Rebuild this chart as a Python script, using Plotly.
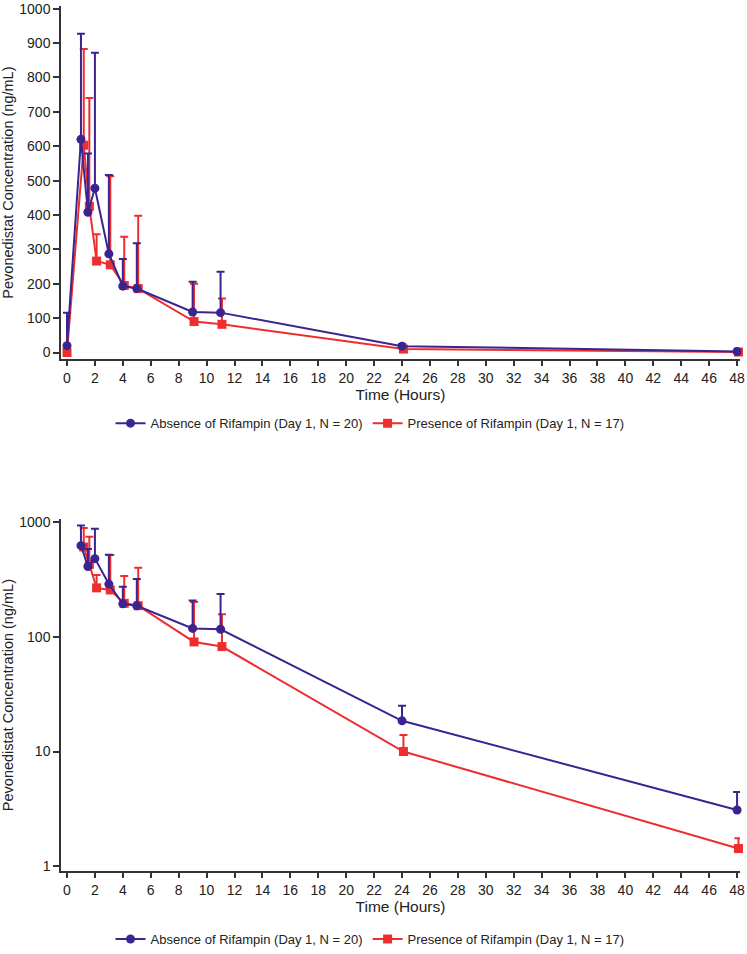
import plotly.graph_objects as go

# ---- Data ----
time_abs = [0, 1, 1.5, 2, 3, 4, 5, 9, 11, 24, 48]
mean_abs = [20, 620, 408, 478, 287, 193, 186, 118, 116, 18.5, 3.1]
upper_abs = [116, 927, 579, 872, 516, 272, 318, 206, 235, 25, 4.45]

time_pre = [0, 1.2, 1.6, 2.12, 3.1, 4.1, 5.1, 9.1, 11.1, 24.1, 48.1]
mean_pre = [0, 603, 425, 266, 255, 195, 186, 90, 82, 10, 1.43]
upper_pre = [0, 883, 740, 344, 513, 337, 398, 200, 157, 13.9, 1.76]

name_abs = "Absence of Rifampin (Day 1, N = 20)"
name_pre = "Presence of Rifampin (Day 1, N = 17)"
x_title = "Time (Hours)"
y_title = "Pevonedistat Concentration (ng/mL)"

BLUE = "#3B2390"
RED = "#EE2E2E"
AXC = "#333333"
FONT = "Arial, Liberation Sans, sans-serif"

W, H = 747, 954
ML, MR = 61, 7


def trace(x, m, u, color, symbol, name, xa, ya, legend, rank):
    return go.Scatter(
        x=x, y=m, mode="lines+markers", name=name,
        line=dict(color=color, width=2),
        marker=dict(color=color, symbol=symbol, size=9),
        error_y=dict(type="data", symmetric=False,
                     array=[a - b for a, b in zip(u, m)],
                     arrayminus=[0] * len(m),
                     color=color, thickness=2, width=4),
        xaxis=xa, yaxis=ya, legend=legend, legendrank=rank, cliponaxis=False,
    )


fig = go.Figure()
# top (linear)
fig.add_trace(trace(time_pre, mean_pre, upper_pre, RED, "square", name_pre, "x", "y", "legend", 2))
fig.add_trace(trace(time_abs, mean_abs, upper_abs, BLUE, "circle", name_abs, "x", "y", "legend", 1))
# bottom (log) - time 0 omitted (zero not plottable on log scale)
fig.add_trace(trace(time_pre[1:], mean_pre[1:], upper_pre[1:], RED, "square", name_pre, "x2", "y2", "legend2", 2))
fig.add_trace(trace(time_abs[1:], mean_abs[1:], upper_abs[1:], BLUE, "circle", name_abs, "x2", "y2", "legend2", 1))


def py(p):
    return 1 - p / H


def px(p):
    return (p - ML) / (W - ML - MR)


TF = dict(size=14, color="#222222", family=FONT)
common_x = dict(
    range=[-0.43, 48.21], dtick=2, tick0=0, showline=True, linecolor=AXC, linewidth=1.5,
    ticks="outside", ticklen=5, tickwidth=1.5, tickcolor=AXC, showgrid=False, zeroline=False,
    tickfont=TF, automargin=False,
    title=dict(text=x_title, font=dict(size=15.5, color="#222222", family=FONT), standoff=2),
)
common_y = dict(
    showline=True, linecolor=AXC, linewidth=1.5, ticks="outside", ticklen=6, tickwidth=1.5,
    tickcolor=AXC, showgrid=False, zeroline=False, tickfont=TF, automargin=False,
    title=dict(text=y_title, font=dict(size=14.5, color="#222222", family=FONT), standoff=5),
)

LEG_FONT = dict(size=13, family=FONT, color="#222222")
fig.update_layout(
    width=W, height=H,
    margin=dict(l=ML, r=MR, t=0, b=0),
    paper_bgcolor="white", plot_bgcolor="white",
    font=dict(family=FONT, color="#222222"),
    xaxis=dict(domain=[0, 1], anchor="y", **common_x),
    yaxis=dict(domain=[py(360.7), py(6)], anchor="x", range=[-19.4, 1008], dtick=100, tick0=0, **common_y),
    xaxis2=dict(domain=[0, 1], anchor="y2", **common_x),
    yaxis2=dict(domain=[py(875), py(521)], anchor="x2", type="log", range=[-0.043, 3.026],
                tickvals=[1, 10, 100, 1000], ticktext=["1", "10", "100", "1000"], **common_y),
    legend=dict(orientation="h", x=px(370), xanchor="center", y=py(425), yanchor="middle",
                font=LEG_FONT, traceorder="normal"),
    legend2=dict(orientation="h", x=px(370), xanchor="center", y=py(943), yanchor="middle",
                 font=LEG_FONT, traceorder="normal"),
    showlegend=True,
)

fig.write_html("out.html", config={"displayModeBar": False},
               post_script="document.body.style.margin='0';")
